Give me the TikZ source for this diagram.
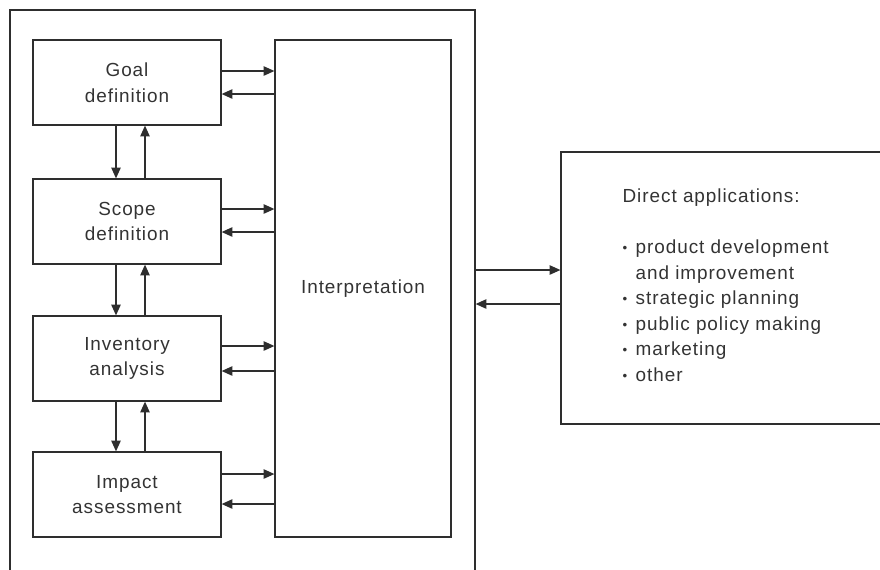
\documentclass[tikz,border=0pt]{standalone}
\usepackage{fontspec}
\setmainfont{Liberation Sans}
\newfontfamily\diagfont[LetterSpace=5]{Liberation Sans}
\usetikzlibrary{arrows.meta}

\definecolor{linegray}{HTML}{2E2E2E}
\definecolor{textgray}{HTML}{333333}
\newcommand\labelfont{\diagfont\fontsize{14.2}{19.1}\selectfont}
\newcommand\appitem{\makebox[9.75pt][l]{\raisebox{0.8pt}{\fontsize{10}{10}\selectfont •}}}

\begin{document}
\begin{tikzpicture}[x=0.75pt,y=-0.75pt,
  line width=0.95pt,
  stage/.style={draw=linegray,minimum width=141pt,minimum height=63.75pt,
    align=center,font=\labelfont,text=textgray,inner sep=0pt},
  arr/.style={draw=linegray,-{Triangle[length=8pt,width=7pt]}}]

  \useasboundingbox (0,0) rectangle (880,569);

  % outer frame and big boxes
  \node[draw=linegray,minimum width=348.75pt,minimum height=442.5pt] (frame) at (242.5,305) {};
  \node[stage,minimum width=132pt,minimum height=372.75pt] (interp) at (363,288.5) {Interpretation};
  \node[draw=linegray,minimum width=254.25pt,minimum height=204pt] (apps) at (730.5,288) {};

  % phases
  \node[stage] (goal) at (127,82.5) {Goal\\definition};
  \node[stage] (scope) at (127,221.5) {Scope\\definition};
  \node[stage] (inventory) at (127,358.5) {Inventory\\analysis};
  \node[stage] (impact) at (127,494.5) {Impact\\assessment};

  \node[font=\labelfont,text=textgray,align=left,anchor=north west,inner sep=0pt] (appstext) at (622,188.5)
    {Direct applications:\\[19.1pt]
     \appitem product development\\
     \hspace*{9.75pt}and improvement\\
     \appitem strategic planning\\
     \appitem public policy making\\
     \appitem marketing\\
     \appitem other};

  % phases <-> interpretation
  \foreach \stage/\up/\dn in {goal/71/94,scope/209/232,inventory/346/371,impact/474/504}{
    \path (0,\up) coordinate (u) (0,\dn) coordinate (d);
    \draw[arr] (\stage.east |- u) -- (interp.west |- u);
    \draw[arr] (interp.west |- d) -- (\stage.east |- d);
  }

  % phase to phase
  \path (116,0) coordinate (dnx) (145,0) coordinate (upx);
  \foreach \a/\b in {goal/scope,scope/inventory,inventory/impact}{
    \draw[arr] (\a.south -| dnx) -- (\b.north -| dnx);
    \draw[arr] (\b.north -| upx) -- (\a.south -| upx);
  }

  % frame <-> applications
  \path (0,270) coordinate (rt) (0,304) coordinate (lt);
  \draw[arr] (frame.east |- rt) -- (apps.west |- rt);
  \draw[arr] (apps.west |- lt) -- (frame.east |- lt);
\end{tikzpicture}
\end{document}
